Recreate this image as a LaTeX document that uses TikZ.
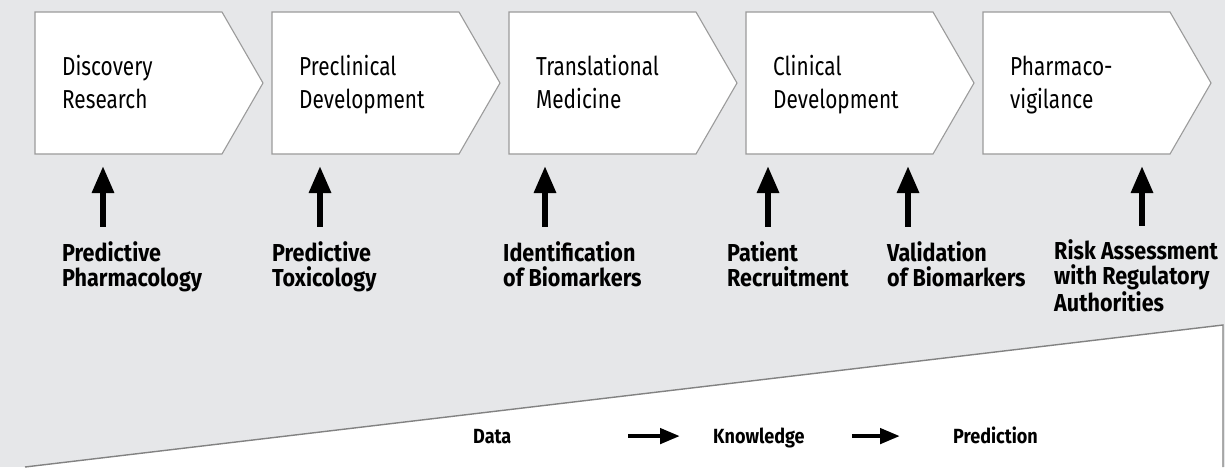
\documentclass[tikz,border=0pt]{standalone}
\usepackage{fontspec}
\setmainfont{Fira Sans}
\newfontfamily\boxfont{Fira Sans}[FakeStretch=0.8]
\newfontfamily\labfont{Fira Sans}[FakeStretch=0.88]
\usetikzlibrary{arrows.meta,calc}
\definecolor{bggray}{RGB}{230,231,233}
\definecolor{edgegray}{RGB}{155,155,155}
\definecolor{wedgegray}{RGB}{130,130,130}
\tikzset{
  phase/.style={draw=edgegray, fill=white, line width=1.1pt, line join=miter},
  phasetext/.style={anchor=base west, align=left, inner sep=0pt,
    font={\boxfont\fontsize{26}{33}\selectfont}},
  tasklabel/.style={anchor=base west, align=left, inner sep=0pt,
    font={\labfont\bfseries\fontsize{24.5}{25}\selectfont}},
  flowlabel/.style={anchor=base west, inner sep=0pt,
    font={\labfont\bfseries\fontsize{20.5}{25}\selectfont}},
  uparrow/.style={line width=6pt, -{Triangle[length=27pt,width=21pt]}},
  flowarrow/.style={line width=4.5pt, -{Triangle[length=20pt,width=15pt]}}
}
\begin{document}
\begin{tikzpicture}[x=1pt,y=-1pt]
  % background
  \fill[bggray] (0,0) rectangle (1225,467);
  \useasboundingbox (0,0) rectangle (1225,467);

  % white wedge at the bottom
  \coordinate (W1) at (25,467);
  \coordinate (W2) at (1223,325);
  \coordinate (W3) at (1223,467);
  \fill[white] (W1) -- (W2) -- (W3) -- cycle;
  \draw[wedgegray, line width=1.4pt] (W1) -- (W2) -- (W3);

  % the five phases (base = last line)
  \foreach \i/\txt in {1/{Discovery\\Research},
                       2/{Preclinical\\Development},
                       3/{Translational\\Medicine},
                       4/{Clinical\\Development},
                       5/{Pharmaco-\\vigilance}} {
    \pgfmathsetmacro\xl{35+237*(\i-1)}
    \draw[phase] (\xl,12) -- ++(187,0) -- ++(41,71) -- ++(-41,71) -- ++(-187,0) -- cycle;
    \node[phasetext] (P\i) at (\xl+27,108) {\txt};
    \coordinate (B\i) at (\xl,154);
  }

  % what each phase needs
  \node[tasklabel] (L1) at (62,286) {Predictive\\Pharmacology};
  \node[tasklabel] (L2) at (272,286) {Predictive\\Toxicology};
  \node[tasklabel] (L3) at (503,286) {Identification\\of Biomarkers};
  \node[tasklabel] (L4) at (727,286) {Patient\\Recruitment};
  \node[tasklabel] (L5) at (887,286) {Validation\\of Biomarkers};
  \node[tasklabel] (L6) at (1054,311) {Risk Assessment\\with Regulatory\\Authorities};

  \foreach \j/\x/\b in {1/103/1, 2/320/2, 3/545/3, 4/768/4, 5/908/4, 6/1142/5} {
    \coordinate (A\j) at (\x,0);
    \draw[uparrow, shorten <=14pt, shorten >=12pt] (L\j.north -| A\j) -- (B\b -| A\j);
  }

  % data to prediction
  \node[flowlabel] (D) at (473,443) {Data};
  \node[flowlabel] (K) at (713,443) {Knowledge};
  \node[flowlabel] (R) at (953,443) {Prediction};
  \draw[flowarrow, shorten <=117pt, shorten >=33pt] (D.east) -- (D.east -| K.west);
  \draw[flowarrow, shorten <=47pt, shorten >=53pt] (D.east -| K.east) -- (D.east -| R.west);
\end{tikzpicture}
\end{document}
